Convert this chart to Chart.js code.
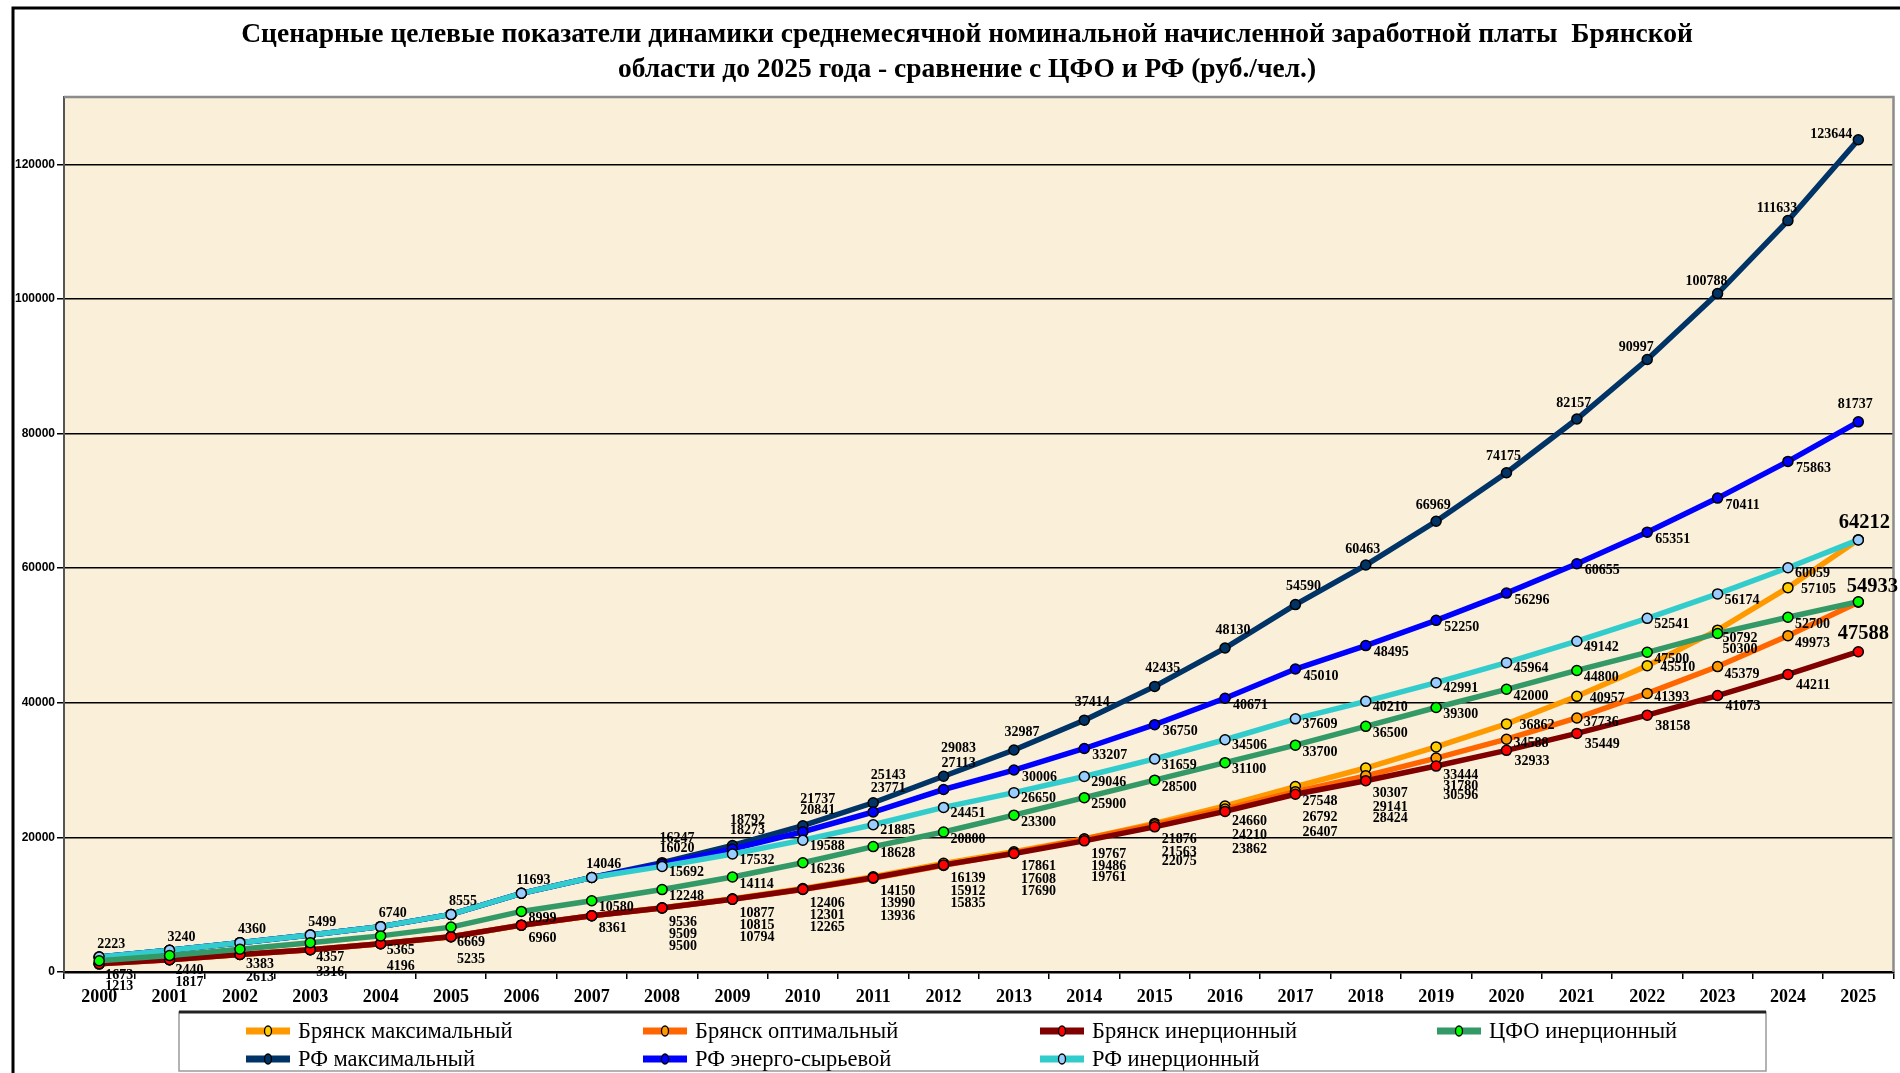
<!DOCTYPE html>
<html>
<head>
<meta charset="utf-8">
<script src="https://cdn.jsdelivr.net/npm/chart.js@4.4.1/dist/chart.umd.min.js"></script>
<style>
  html, body { margin: 0; padding: 0; background: #fff; }
  #wrap { width: 1900px; height: 1073px; }
</style>
</head>
<body>
<div id="wrap"><canvas id="wageChart" width="1900" height="1073"></canvas></div>
<script>
// --- data (руб./чел.) ---
const years = ['2000','2001','2002','2003','2004','2005','2006','2007','2008','2009','2010','2011','2012',
               '2013','2014','2015','2016','2017','2018','2019','2020','2021','2022','2023','2024','2025'];

const bryanskMax   = [1213, 1817, 2613, 3316, 4196, 5235, 6960, 8361, 9536, 10877, 12406, 14150, 16139,
                      17861, 19767, 22075, 24660, 27548, 30307, 33444, 36862, 40957, 45510, 50792, 57105, 64212];
const bryanskOpt   = [1213, 1817, 2613, 3316, 4196, 5235, 6960, 8361, 9500, 10794, 12265, 13936, 15835,
                      17690, 19761, 21876, 24210, 26792, 29141, 31780, 34588, 37736, 41393, 45379, 49973, 54933];
const bryanskInert = [1213, 1817, 2613, 3316, 4196, 5235, 6960, 8361, 9509, 10815, 12301, 13990, 15912,
                      17608, 19486, 21563, 23862, 26407, 28424, 30596, 32933, 35449, 38158, 41073, 44211, 47588];
const cfoInert     = [1673, 2440, 3383, 4357, 5365, 6669, 8999, 10580, 12248, 14114, 16236, 18628, 20800,
                      23300, 25900, 28500, 31100, 33700, 36500, 39300, 42000, 44800, 47500, 50300, 52700, 55000];
const rfMax        = [2223, 3240, 4360, 5499, 6740, 8555, 11693, 14046, 16247, 18792, 21737, 25143, 29083,
                      32987, 37414, 42435, 48130, 54590, 60463, 66969, 74175, 82157, 90997, 100788, 111633, 123644];
const rfEnergy     = [2223, 3240, 4360, 5499, 6740, 8555, 11693, 14046, 16020, 18273, 20841, 23771, 27113,
                      30006, 33207, 36750, 40671, 45010, 48495, 52250, 56296, 60655, 65351, 70411, 75863, 81737];
const rfInert      = [2223, 3240, 4360, 5499, 6740, 8555, 11693, 14046, 15692, 17532, 19588, 21885, 24451,
                      26650, 29046, 31659, 34506, 37609, 40210, 42991, 45964, 49142, 52541, 56174, 60059, 64200];

const yTicks = [0, 20000, 40000, 60000, 80000, 100000, 120000];
const yMax = 130000;

const titleLines = [
  'Сценарные целевые показатели динамики среднемесячной номинальной начисленной заработной платы  Брянской',
  'области до 2025 года - сравнение с ЦФО и РФ (руб./чел.)'
];

// --- label placement (offsets from the point, px) ---
// Bryansk labels 2008-2019 sit stacked under the points; which series takes which row varies by year
function bryanskRow(key, i) {
  if (i <= 14) return {max: 0, inert: 1, opt: 2}[key];
  if (i === 15) return {opt: 0, inert: 1, max: 2}[key];
  return {max: 0, opt: 1, inert: 2}[key];
}
function bryanskLabel(key) {
  return function (i) {
    if (i === 25) {
      return {max: {dx: 6, dy: -17}, opt: {dx: 14, dy: -16}, inert: {dx: 5, dy: -18}}[key];
    }
    if (i < 8) {
      if (key !== 'inert') return null;
      return i <= 5 ? {dx: 20, dy: 23} : {dx: 21, dy: 13};
    }
    if (i <= 19) {
      const row = bryanskRow(key, i);
      let dys = [15, 26, 38];
      if (i === 18) dys = [25, 32, 38];
      if (i === 19) dys = [28, 28, 29];
      return {dx: 7, dy: dys[row], align: 'left'};
    }
    if (key === 'max') {
      if (i === 23) return {dx: 5, dy: 8, align: 'left'};
      return {dx: 13, dy: 2, align: 'left'};
    }
    if (key === 'opt') return {dx: 7, dy: i >= 23 ? 8 : 4, align: 'left'};
    return {dx: 8, dy: 11, align: 'left'};
  };
}
function cfoLabel(i) {
  if (i === 25) return null;
  if (i <= 5) return {dx: 20, dy: 15};
  if (i === 23) return {dx: 5, dy: 16, align: 'left'};
  return {dx: 7, dy: 7, align: 'left'};
}
function rfMaxLabel(i) {
  if (i < 8) return null;
  if (i <= 12) return {dx: 15, dy: -24 - (i - 8)};
  if (i <= 17) return {dx: 8, dy: -18};
  if (i <= 21) return {dx: -3, dy: -16};
  if (i <= 24) return {dx: -11, dy: -12};
  return {dx: -27, dy: -5};
}
function rfEnergyLabel(i) {
  if (i < 8) return null;
  if (i <= 12) return {dx: 15, dy: -16 - 2.5 * (i - 8)};
  if (i <= 24) return {dx: 8, dy: 7, align: 'left'};
  return {dx: -3, dy: -17};
}
function rfInertLabel(i) {
  if (i === 25) return null;
  if (i < 8) return {dx: 12, dy: -13};
  return {dx: 7, dy: 6, align: 'left'};
}

const series = [
  {label: 'Брянск максимальный', data: bryanskMax,   line: '#FF9900', dot: '#FFCC00', order: 4, lbl: bryanskLabel('max')},
  {label: 'Брянск оптимальный',  data: bryanskOpt,   line: '#FF6600', dot: '#FF9900', order: 3, lbl: bryanskLabel('opt')},
  {label: 'Брянск инерционный',  data: bryanskInert, line: '#800000', dot: '#FF0000', order: 2, lbl: bryanskLabel('inert')},
  {label: 'ЦФО инерционный',     data: cfoInert,     line: '#339966', dot: '#00FF00', order: 0, lbl: cfoLabel},
  {label: 'РФ максимальный',     data: rfMax,        line: '#003366', dot: '#003366', order: 6, lbl: rfMaxLabel},
  {label: 'РФ энерго-сырьевой',  data: rfEnergy,     line: '#0000FF', dot: '#0000FF', order: 5, lbl: rfEnergyLabel},
  {label: 'РФ инерционный',      data: rfInert,      line: '#33CCCC', dot: '#99CCFF', order: 1, lbl: rfInertLabel}
];

// background, frame, title and plot area
const backdrop = {
  id: 'backdrop',
  beforeDraw(chart) {
    const {ctx, chartArea: a} = chart;
    ctx.save();
    ctx.fillStyle = '#fff';
    ctx.fillRect(0, 0, chart.width, chart.height);
    ctx.fillStyle = '#FAEFD9';
    ctx.fillRect(a.left, a.top, a.right - a.left, a.bottom - a.top);
    ctx.strokeStyle = '#000';
    ctx.lineWidth = 3;
    ctx.beginPath();
    ctx.moveTo(13, chart.height);
    ctx.lineTo(13, 8);
    ctx.lineTo(chart.width, 8);
    ctx.stroke();
    // title
    ctx.fillStyle = '#000';
    ctx.font = 'bold 27.5px "Liberation Serif"';
    ctx.textAlign = 'center';
    ctx.textBaseline = 'middle';
    ctx.fillText(titleLines[0], 967, 35);
    ctx.fillText(titleLines[1], 967, 70);
    ctx.restore();
  },
  beforeDatasetsDraw(chart) {
    const {ctx, chartArea: a} = chart;
    ctx.save();
    ctx.strokeStyle = '#8c8c8c';
    ctx.lineWidth = 2.5;
    ctx.beginPath();
    ctx.moveTo(a.left, a.top);
    ctx.lineTo(a.right, a.top);
    ctx.lineTo(a.right, a.bottom);
    ctx.stroke();
    ctx.restore();
  }
};

// value labels next to the points
const pointLabels = {
  id: 'pointLabels',
  afterDatasetsDraw(chart) {
    const ctx = chart.ctx;
    ctx.save();
    ctx.fillStyle = '#000';
    ctx.textBaseline = 'middle';
    series.forEach((s, di) => {
      const meta = chart.getDatasetMeta(di);
      meta.data.forEach((pt, i) => {
        const p = s.lbl(i);
        if (!p) return;
        const big = i === 25 && s.label.startsWith('Брянск');
        ctx.font = big ? 'bold 20.5px "Liberation Serif"' : 'bold 14px "Liberation Serif"';
        ctx.textAlign = p.align || 'center';
        ctx.fillText(String(s.data[i]), pt.x + p.dx, pt.y + p.dy);
      });
    });
    ctx.restore();
  }
};

// legend box at the bottom, 4 columns
const gridLegend = {
  id: 'gridLegend',
  afterDraw(chart) {
    const ctx = chart.ctx;
    const boxL = 179, boxR = 1766, boxT = 1012, boxB = 1071;
    ctx.save();
    ctx.fillStyle = '#fff';
    ctx.fillRect(boxL, boxT, boxR - boxL, boxB - boxT);
    ctx.strokeStyle = '#9a9a9a';
    ctx.lineWidth = 1.5;
    ctx.strokeRect(boxL, boxT, boxR - boxL, boxB - boxT);
    ctx.strokeStyle = '#222';
    ctx.lineWidth = 3;
    ctx.beginPath();
    ctx.moveTo(boxL, boxT);
    ctx.lineTo(boxR, boxT);
    ctx.stroke();

    series.forEach((s, k) => {
      const x = 246 + (k % 4) * 397;
      const y = k < 4 ? 1031 : 1059;
      ctx.strokeStyle = s.line;
      ctx.lineWidth = 7;
      ctx.beginPath();
      ctx.moveTo(x, y);
      ctx.lineTo(x + 44, y);
      ctx.stroke();
      ctx.fillStyle = s.dot;
      ctx.strokeStyle = '#000';
      ctx.lineWidth = 1.3;
      ctx.beginPath();
      ctx.ellipse(x + 22, y, 3.5, 5, 0, 0, Math.PI * 2);
      ctx.fill();
      ctx.stroke();
      ctx.fillStyle = '#000';
      ctx.font = '22.5px "Liberation Serif"';
      ctx.textAlign = 'left';
      ctx.textBaseline = 'middle';
      ctx.fillText(s.label, x + 52, y + 1);
    });
    ctx.restore();
  }
};

const ctx = document.getElementById('wageChart').getContext('2d');
new Chart(ctx, {
  type: 'line',
  data: {
    labels: years,
    datasets: series.map(s => ({
      label: s.label,
      data: s.data,
      order: s.order,
      borderColor: s.line,
      backgroundColor: s.line,
      borderWidth: 5.5,
      tension: 0,
      fill: false,
      pointRadius: 5,
      pointBorderWidth: 1.5,
      pointBorderColor: '#000',
      pointBackgroundColor: s.dot
    }))
  },
  options: {
    responsive: false,
    animation: false,
    events: [],
    layout: {padding: {left: 13, right: 3, top: 97, bottom: 61}},
    plugins: {
      legend: {display: false},
      tooltip: {enabled: false},
      title: {display: false}
    },
    scales: {
      x: {
        offset: true,
        ticks: {
          color: '#000',
          autoSkip: false,
          maxRotation: 0,
          padding: 8,
          font: {family: '"Liberation Serif"', size: 18, weight: 'bold'}
        },
        grid: {offset: true, drawOnChartArea: false, drawTicks: true, tickLength: 7, color: '#000', lineWidth: 1.5},
        border: {display: true, color: '#000', width: 2.5},
        afterFit(scale) { scale.height = 40; }
      },
      y: {
        min: 0,
        max: yMax,
        afterBuildTicks(scale) { scale.ticks = yTicks.map(v => ({value: v})); },
        ticks: {
          color: '#000',
          padding: 2,
          callback: v => String(v),
          font: {family: '"Liberation Sans"', size: 12, weight: 'bold'}
        },
        grid: {color: '#000', lineWidth: 1.5, tickLength: 7, tickColor: '#000'},
        border: {display: true, color: '#555', width: 2},
        afterFit(scale) { scale.width = 51; }
      }
    }
  },
  plugins: [backdrop, pointLabels, gridLegend]
});
</script>
</body>
</html>
